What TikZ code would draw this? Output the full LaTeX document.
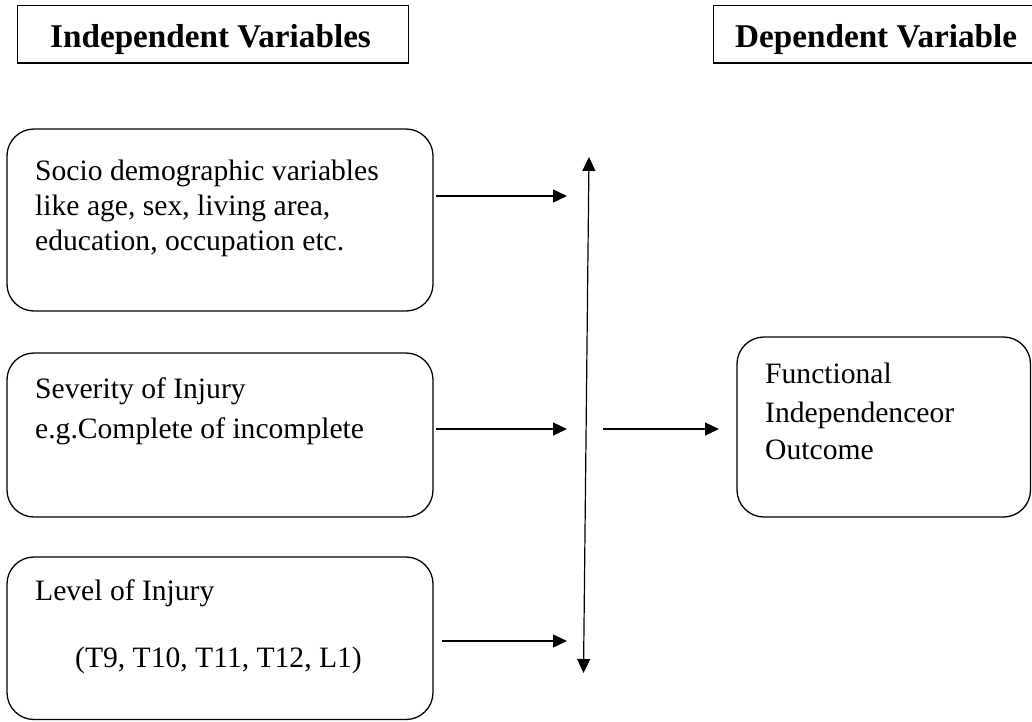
\documentclass[tikz,border=0pt]{standalone}
\usepackage{fontspec}
\setmainfont{Liberation Serif}
\usetikzlibrary{arrows.meta}
\begin{document}
\begin{tikzpicture}[x=1pt,y=-1pt,
  hdrbox/.style={draw, line width=1.3pt, inner sep=0pt, outer sep=0pt},
  rbox/.style={draw, line width=1.3pt, rounded corners=27pt, inner sep=0pt, outer sep=0pt},
  hdrtxt/.style={anchor=base west, inner sep=0pt, font=\fontsize{33.2}{38}\selectfont\bfseries},
  txt/.style={anchor=base west, inner sep=0pt, font=\fontsize{29.6}{35}\selectfont},
  arr/.style={line width=1.2pt, -{Triangle[length=14pt,width=13pt]}},
  darr/.style={line width=1.2pt, {Triangle[length=14pt,width=13pt]}-{Triangle[length=14pt,width=13pt]}}]
\useasboundingbox (0,0) rectangle (1032,721);
% header boxes
\node[hdrbox, minimum width=391pt, minimum height=57.5pt] (h1) at (212.8,34.25) {};
\node[hdrbox, minimum width=330pt, minimum height=57.5pt] (h2) at (878.3,34.25) {};
\node[hdrtxt] (h1t) at (50,47) {Independent Variables};
\node[hdrtxt] (h2t) at (735,47) {Dependent Variable};
% rounded boxes
\node[rbox, minimum width=426pt, minimum height=182pt] (b1) at (220,220) {};
\node[rbox, minimum width=426pt, minimum height=164pt] (b2) at (220,435) {};
\node[rbox, minimum width=426pt, minimum height=162.5pt] (b3) at (220,638.25) {};
\node[rbox, minimum width=293.5pt, minimum height=180pt] (out) at (883.75,427) {};
% texts
\node[txt] (t1a) at (35,180) {Socio demographic variables};
\node[txt] (t1b) at (35,215) {like age, sex, living area,};
\node[txt] (t1c) at (35,250) {education, occupation etc.};
\node[txt] (t2a) at (35,398) {Severity of Injury};
\node[txt] (t2b) at (35,438) {e.g.Complete of incomplete};
\node[txt] (t3a) at (35,600) {Level of Injury};
\node[txt] (t3b) at (75,667) {(T9, T10, T11, T12, L1)};
\node[txt] (t4a) at (765,383) {Functional};
\node[txt] (t4b) at (765,422) {Independenceor};
\node[txt] (t4c) at (765,459) {Outcome};
% connector end points
\coordinate (a1s) at (436,196);
\coordinate (a1e) at (567,196);
\coordinate (a2s) at (436,429);
\coordinate (a2e) at (567,429);
\coordinate (a3s) at (442,641);
\coordinate (a3e) at (567,641);
\coordinate (vt) at (589,157);
\coordinate (vb) at (583.5,673);
\coordinate (a4s) at (603,429);
\coordinate (a4e) at (719,429);
% connectors
\draw[arr] (a1s) -- (a1e);
\draw[arr] (a2s) -- (a2e);
\draw[arr] (a3s) -- (a3e);
\draw[darr] (vb) -- (vt);
\draw[arr] (a4s) -- (a4e);
\end{tikzpicture}
\end{document}
